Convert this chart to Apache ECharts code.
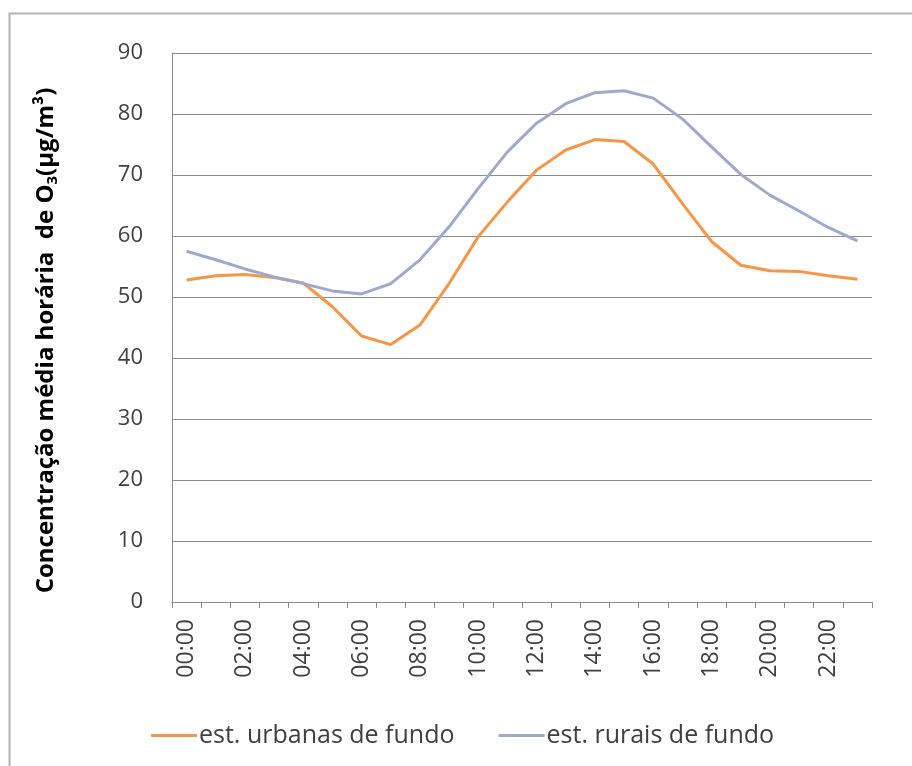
<!DOCTYPE html>
<html>
<head>
<meta charset="utf-8">
<script src="https://cdn.jsdelivr.net/npm/echarts@6/dist/echarts.min.js"></script>
<style>
  html, body { margin: 0; padding: 0; background: #fff; }
  #chart { width: 912px; height: 766px; }
</style>
</head>
<body>
<div id="chart"></div>
<script>
// hourly categories, labels shown every other hour
const hours = ['00:00', '01:00', '02:00', '03:00', '04:00', '05:00', '06:00', '07:00',
  '08:00', '09:00', '10:00', '11:00', '12:00', '13:00', '14:00', '15:00',
  '16:00', '17:00', '18:00', '19:00', '20:00', '21:00', '22:00', '23:00'];

// est. urbanas de fundo
const urbanas = [52.8, 53.5, 53.7, 53.2, 52.3, 48.4, 43.6, 42.2, 45.4, 52.2, 59.9, 65.6,
  70.8, 74.1, 75.8, 75.5, 71.8, 65.3, 59.1, 55.2, 54.3, 54.2, 53.5, 52.9];

// est. rurais de fundo
const rurais = [57.5, 56.1, 54.6, 53.3, 52.2, 51.0, 50.5, 52.2, 56.1, 61.5, 67.8, 73.8,
  78.5, 81.7, 83.5, 83.8, 82.6, 79.2, 74.6, 70.1, 66.7, 64.1, 61.4, 59.2];

const seriesNames = ['est. urbanas de fundo', 'est. rurais de fundo'];
const yMin = 0, yMax = 90, yStep = 10;

const chart = echarts.init(document.getElementById('chart'));

const font = '"Open Sans", sans-serif';
const textColor = '#404040';

const option = {
  animation: false,
  color: ['#f79646', '#9daad0'],
  graphic: [{
    type: 'rect',
    shape: { x: 9.5, y: 13.5, width: 940, height: 800 },
    style: { fill: 'none', stroke: '#b4b4b4', lineWidth: 2 },
    silent: true
  }],
  grid: {
    left: 172,
    right: 40,
    top: 53,
    bottom: 164
  },
  legend: {
    bottom: 13,
    left: 146,
    itemGap: 44,
    itemWidth: 46,
    itemHeight: 3,
    icon: 'rect',
    textStyle: {
      fontFamily: font,
      fontSize: 25,
      color: textColor,
      padding: [0, 0, 0, -3]
    },
    data: seriesNames
  },
  xAxis: {
    type: 'category',
    data: hours,
    boundaryGap: true,
    axisLine: { lineStyle: { color: '#8c8c8c', width: 1 } },
    axisTick: { show: true, interval: 0, length: 6, lineStyle: { color: '#8c8c8c' } },
    axisLabel: {
      interval: 1,
      rotate: 90,
      margin: 17,
      fontFamily: font,
      fontSize: 23,
      color: textColor
    },
    splitLine: { show: false }
  },
  yAxis: {
    type: 'value',
    min: yMin,
    max: yMax,
    interval: yStep,
    name: 'Concentração média horária  de O{sub|3}(µg/m³)',
    nameLocation: 'middle',
    nameRotate: 90,
    nameGap: 112,
    nameTextStyle: {
      fontFamily: font,
      fontSize: 24,
      fontWeight: 'bold',
      color: '#000',
      padding: [0, 26, 0, 0],
      rich: {
        sub: {
          fontFamily: font,
          fontSize: 15,
          fontWeight: 'bold',
          color: '#000',
          verticalAlign: 'bottom',
          padding: [13, 0, 0, 0]
        }
      }
    },
    axisLine: { show: true, lineStyle: { color: '#8c8c8c', width: 1 } },
    axisTick: { show: false },
    axisLabel: {
      margin: 29,
      fontFamily: font,
      fontSize: 22,
      color: textColor
    },
    splitLine: { lineStyle: { color: '#8c8c8c', width: 1 } }
  },
  series: [{
    name: seriesNames[0],
    type: 'line',
    data: urbanas,
    symbol: 'none',
    lineStyle: { width: 3 }
  }, {
    name: seriesNames[1],
    type: 'line',
    data: rurais,
    symbol: 'none',
    lineStyle: { width: 3 }
  }]
};

chart.setOption(option);
</script>
</body>
</html>
